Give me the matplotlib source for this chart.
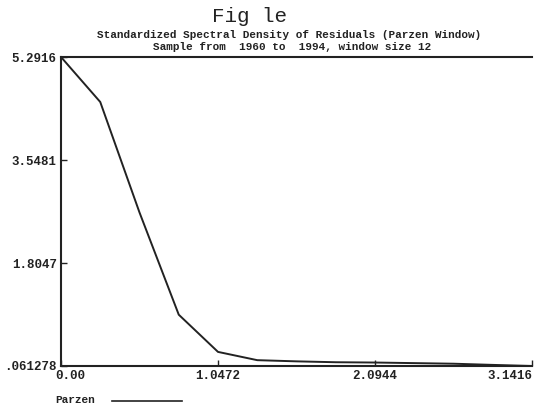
import numpy as np
import matplotlib
matplotlib.use("Agg")
import matplotlib.pyplot as plt
from matplotlib.transforms import ScaledTranslation

# Data: frequencies k*pi/12, k=0..12
freq_index = list(range(13))
density = [5.2916, 4.53, 2.66, 0.93, 0.30, 0.16, 0.14, 0.125, 0.12, 0.11, 0.10, 0.08, 0.061278]
ytick_vals = [0.061278, 1.8047, 3.5481, 5.2916]
ytick_labels = [".061278", "1.8047", "3.5481", "5.2916"]
xtick_vals = [0.0, 1.0472, 2.0944, 3.1416]
xtick_labels = ["0.00", "1.0472", "2.0944", "3.1416"]

freqs = [k * np.pi / 12 for k in freq_index]

W, H = 534, 408
fig = plt.figure(figsize=(W / 100, H / 100), dpi=100)
mono = ["Liberation Mono", "DejaVu Sans Mono"]

ax = fig.add_axes([61 / W, (H - 366) / H, (532 - 61) / W, (366 - 57) / H])
ax.plot(freqs, density, color="#222222", lw=1.4)
ax.set_xlim(0, 3.1416)
ax.set_ylim(0.061278, 5.2916)
ax.spines["right"].set_visible(False)
for s in ["left", "top", "bottom"]:
    ax.spines[s].set_linewidth(1.5)
    ax.spines[s].set_color("#222222")

ax.set_yticks(ytick_vals)
ax.set_yticklabels(ytick_labels, family=mono, fontweight="bold", fontsize=9)
ax.set_xticks(xtick_vals)
ax.set_xticklabels(xtick_labels, family=mono, fontweight="bold", fontsize=9)
ax.tick_params(axis="both", direction="in", length=4, width=1, colors="#222222", pad=3)
ax.tick_params(axis="y", pad=3)
xl = ax.get_xticklabels()
xl[0].set_ha("left")
xl[0].set_transform(xl[0].get_transform() + ScaledTranslation(-6 / 100, 0, fig.dpi_scale_trans))
xl[-1].set_ha("right")

fig.text(250 / W, 1 - 17 / H, "Fig le", family=mono, fontsize=15, ha="center", va="center", color="#222222")
fig.text(289 / W, 1 - 35 / H, "Standardized Spectral Density of Residuals (Parzen Window)",
         family=mono, fontweight="bold", fontsize=7.9, ha="center", va="center", color="#222222")
fig.text(292 / W, 1 - 47 / H, "Sample from  1960 to  1994, window size 12",
         family=mono, fontweight="bold", fontsize=7.9, ha="center", va="center", color="#222222")

fig.text(55 / W, 1 - 400 / H, "Parzen", family=mono, fontweight="bold", fontsize=8, ha="left", va="center", color="#222222")
fig.add_artist(plt.Line2D([112 / W, 182 / W], [1 - 401 / H, 1 - 401 / H], color="#222222", lw=1.2))

fig.savefig("out.png", dpi=100)
